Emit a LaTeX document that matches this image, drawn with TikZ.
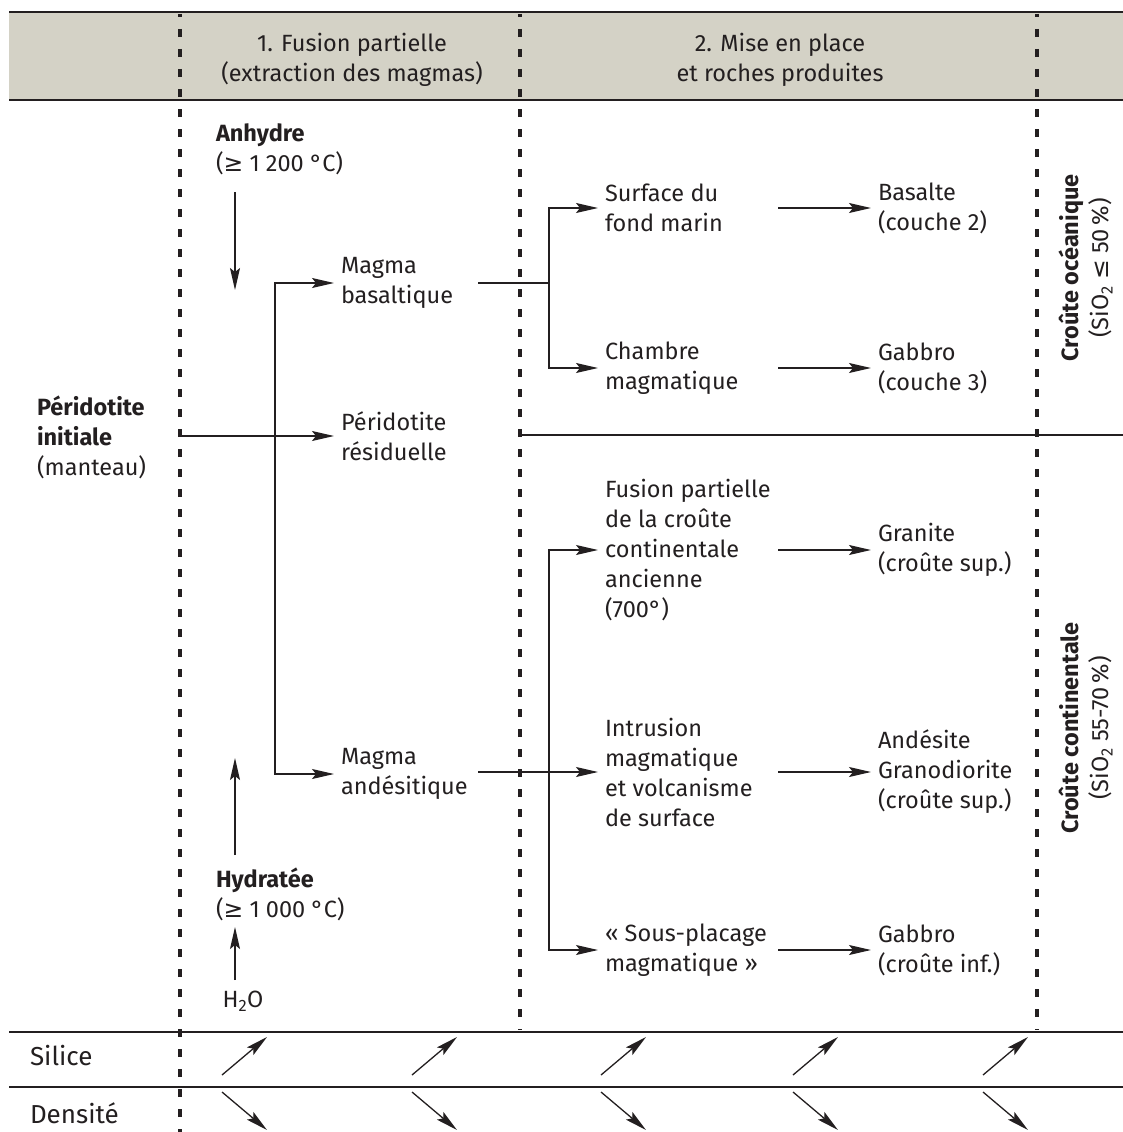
\documentclass[tikz,border=0pt]{standalone}
\usepackage{fontspec}
\setmainfont{Fira Sans}
\newfontfamily\symfont{DejaVu Sans}
\usetikzlibrary{arrows.meta}
\definecolor{ink}{HTML}{231F20}
\definecolor{band}{HTML}{D4D2C6}
\tikzset{
  txt/.style={font=\fontsize{23.5}{30}\selectfont, text=ink, align=left, anchor=west, inner sep=0pt, outer xsep=7pt},
  rowlbl/.style={txt, font=\fontsize{26}{30}\selectfont},
  arr/.style={draw=ink, line width=1.3pt, -{Stealth[length=22pt,width=10pt,inset=4pt]}},
  conn/.style={draw=ink, line width=1.3pt},
  rule/.style={draw=ink, line width=1.8pt},
  sep/.style={draw=ink, line width=3.6pt, dash pattern=on 8pt off 12pt, dash phase=5pt}
}
\begin{document}
\begin{tikzpicture}[x=1pt, y=-1pt]
  \useasboundingbox (0,0) rectangle (1123,1132);
  \fill[band] (9,12) rectangle (1123,100);
  \draw[rule] (9,12) -- (1123,12);
  \draw[rule] (9,100) -- (1123,100);
  \draw[rule] (9,1032) -- (1123,1032);
  \draw[rule] (9,1087) -- (1123,1087);

  \draw[sep] (180,14) -- (180,1132);
  \foreach \x in {520,1037}
    \draw[sep] (\x,14) -- (\x,1030);

  \node[txt, anchor=center, align=center] (head1) at (352,60) {1. Fusion partielle\\(extraction des magmas)};
  \node[txt, anchor=center, align=center] (head2) at (780,60) {2. Mise en place\\et roches produites};

  \node[txt] (perinit) at (30,437) {\textbf{Péridotite}\\\textbf{initiale}\\(manteau)};
  \node[txt] (anhy) at (209,149) {\textbf{Anhydre}\\({\symfont ≥} 1 200 °C)};
  \node[txt] (hydr) at (209,894) {\textbf{Hydratée}\\({\symfont ≥} 1 000 °C)};
  \node[txt, anchor=center, outer sep=0pt] (h2o) at (243,1001) {H\textsubscript{2}O};

  \node[txt] (mbas) at (334,283) {Magma\\basaltique};
  \node[txt] (peres) at (334,436) {Péridotite\\résiduelle};
  \node[txt] (mand) at (334,774) {Magma\\andésitique};

  \node[txt] (surf) at (598,208) {Surface du\\fond marin};
  \node[txt] (cham) at (598,368) {Chambre\\magmatique};
  \node[txt] (fus) at (598,550) {Fusion partielle\\de la croûte\\continentale\\ancienne\\(700°)};
  \node[txt] (intr) at (598,772) {Intrusion\\magmatique\\et volcanisme\\de surface};
  \node[txt] (sous) at (598,950) {«~Sous-placage\\magmatique~»};

  \node[txt] (basa) at (871,208) {Basalte\\(couche 2)};
  \node[txt] (gab1) at (871,368) {Gabbro\\(couche 3)};
  \node[txt] (gran) at (871,550) {Granite\\(croûte sup.)};
  \node[txt] (ande) at (871,772) {Andésite\\Granodiorite\\(croûte sup.)};
  \node[txt] (gab2) at (871,950) {Gabbro\\(croûte inf.)};

  \node[txt, anchor=center, align=center, rotate=90, outer sep=0pt] (oce) at (1086,268) {\textbf{Croûte océanique}\\(SiO\textsubscript{2} {\symfont ≤} 50\,\%)};
  \node[txt, anchor=center, align=center, rotate=90, outer sep=0pt] (cont) at (1086,728) {\textbf{Croûte continentale}\\(SiO\textsubscript{2} 55-70\,\%)};

  \node[rowlbl] (silice) at (23,1056) {Silice};
  \node[rowlbl] (densite) at (23,1113) {Densité};

  \coordinate (anhytop) at (235,192);
  \coordinate (anhyend) at (235,290);
  \coordinate (hydrbot) at (235,855);
  \coordinate (hydrend) at (235,758);
  \coordinate (h2otop) at (235,980);
  \coordinate (h2oend) at (235,927);
  \coordinate (pstart) at (182,436);
  \coordinate (fork1) at (275,530);
  \coordinate (bstart) at (478,283);
  \coordinate (fork2) at (549,283);
  \coordinate (astart) at (478,772);
  \coordinate (fork3) at (549,772);
  \coordinate (ocestart) at (522,435);
  \coordinate (oceend) at (1123,435);

  \draw[arr] (anhytop) -- (anhyend);
  \draw[arr] (hydrbot) -- (hydrend);
  \draw[arr] (h2otop) -- (h2oend);
  \draw[arr] (pstart) -- (peres.west);
  \draw[arr] (fork1) |- (mbas.west);
  \draw[arr] (fork1) |- (mand.west);
  \draw[conn] (bstart) -- (fork2);
  \draw[arr] (fork2) |- (surf.west);
  \draw[arr] (fork2) |- (cham.west);
  \draw[arr] (astart) -- (intr.west);
  \draw[arr] (fork3) |- (fus.west);
  \draw[arr] (fork3) |- (sous.west);
  \draw[conn] (ocestart) -- (oceend);

  \foreach \from/\to in {surf/basa,cham/gab1,fus/gran,intr/ande,sous/gab2}
    \draw[arr] ([xshift=180pt]\from.west) -- (\to.west);

  \foreach \x in {222,412,601,793,983} {
    \draw[arr] (\x,1075) -- (\x+45,1037);
    \draw[arr] (\x,1092) -- (\x+45,1130);
  }
\end{tikzpicture}
\end{document}
